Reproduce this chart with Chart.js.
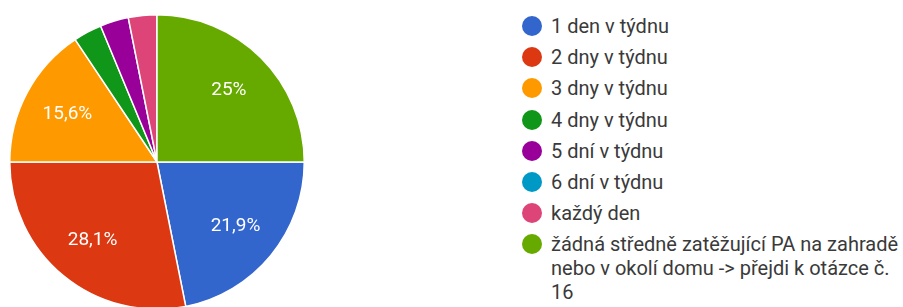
<!DOCTYPE html>
<html>
<head>
<meta charset="utf-8">
<script src="https://cdn.jsdelivr.net/npm/chart.js@4.4.0/dist/chart.umd.min.js"></script>
<style>
  html, body { margin: 0; padding: 0; background: #fff; width: 903px; height: 307px; overflow: hidden; }
  #pieBox { position: absolute; left: 0; top: 0; width: 320px; height: 330px; }
  #legend { position: absolute; left: 522px; top: 14px; font-family: Roboto, Arial, sans-serif; font-size: 20px; color: #3a3a3a; }
  .item { position: relative; padding-left: 29px; line-height: 24px; margin-bottom: 7.2px; width: 360px; }
  .dot { position: absolute; left: 0; top: 2px; width: 20px; height: 20px; border-radius: 50%; }
</style>
</head>
<body>
<div id="pieBox"><canvas id="pieChart"></canvas></div>
<div id="legend"></div>
<script>
// answers (counts out of 32 respondents)
const labels = ['1 den v týdnu', '2 dny v týdnu', '3 dny v týdnu', '4 dny v týdnu',
    '5 dní v týdnu', '6 dní v týdnu', 'každý den',
    'žádná středně zatěžující PA na zahradě nebo v okolí domu -> přejdi k otázce č. 16'];
const counts = [7, 9, 5, 1, 1, 0, 1, 8];
const colors = ['#3366cc', '#dc3912', '#ff9900', '#109618', '#990099', '#0099c6', '#dd4477', '#66aa00'];

// legend
const legendEl = document.getElementById('legend');
labels.forEach(function (lab, i) {
    const div = document.createElement('div');
    div.className = 'item';
    div.innerHTML = '<span class="dot" style="background:' + colors[i] + '"></span>' + lab;
    legendEl.appendChild(div);
});

// white percent labels inside the bigger slices
const pctLabels = {
    id: 'pctLabels',
    afterDatasetsDraw: function (chart) {
        const ctx = chart.ctx;
        const meta = chart.getDatasetMeta(0);
        const data = chart.data.datasets[0].data;
        const total = data.reduce(function (a, b) { return a + b; }, 0);
        ctx.save();
        ctx.fillStyle = '#ffffff';
        ctx.font = '19px Roboto, Arial, sans-serif';
        ctx.textAlign = 'center';
        ctx.textBaseline = 'middle';
        meta.data.forEach(function (arc, i) {
            const pct = data[i] / total * 100;
            if (pct < 5) return;
            const mid = (arc.startAngle + arc.endAngle) / 2;
            const r = arc.outerRadius * 0.69;
            let txt = pct.toFixed(1).replace(/\.0$/, '').replace('.', ',') + '%';
            ctx.fillText(txt, arc.x + Math.cos(mid) * r, arc.y + Math.sin(mid) * r);
        });
        ctx.restore();
    }
};

new Chart(document.getElementById('pieChart'), {
    type: 'pie',
    data: {
        labels: labels,
        datasets: [{
            data: counts,
            backgroundColor: colors,
            borderColor: '#ffffff',
            borderWidth: 1.5
        }]
    },
    options: {
        responsive: true,
        maintainAspectRatio: false,
        animation: false,
        rotation: 90,
        layout: { padding: { left: 9, right: 15, top: 14, bottom: 20 } },
        plugins: {
            legend: { display: false },
            tooltip: { enabled: false }
        }
    },
    plugins: [pctLabels]
});
</script>
</body>
</html>
